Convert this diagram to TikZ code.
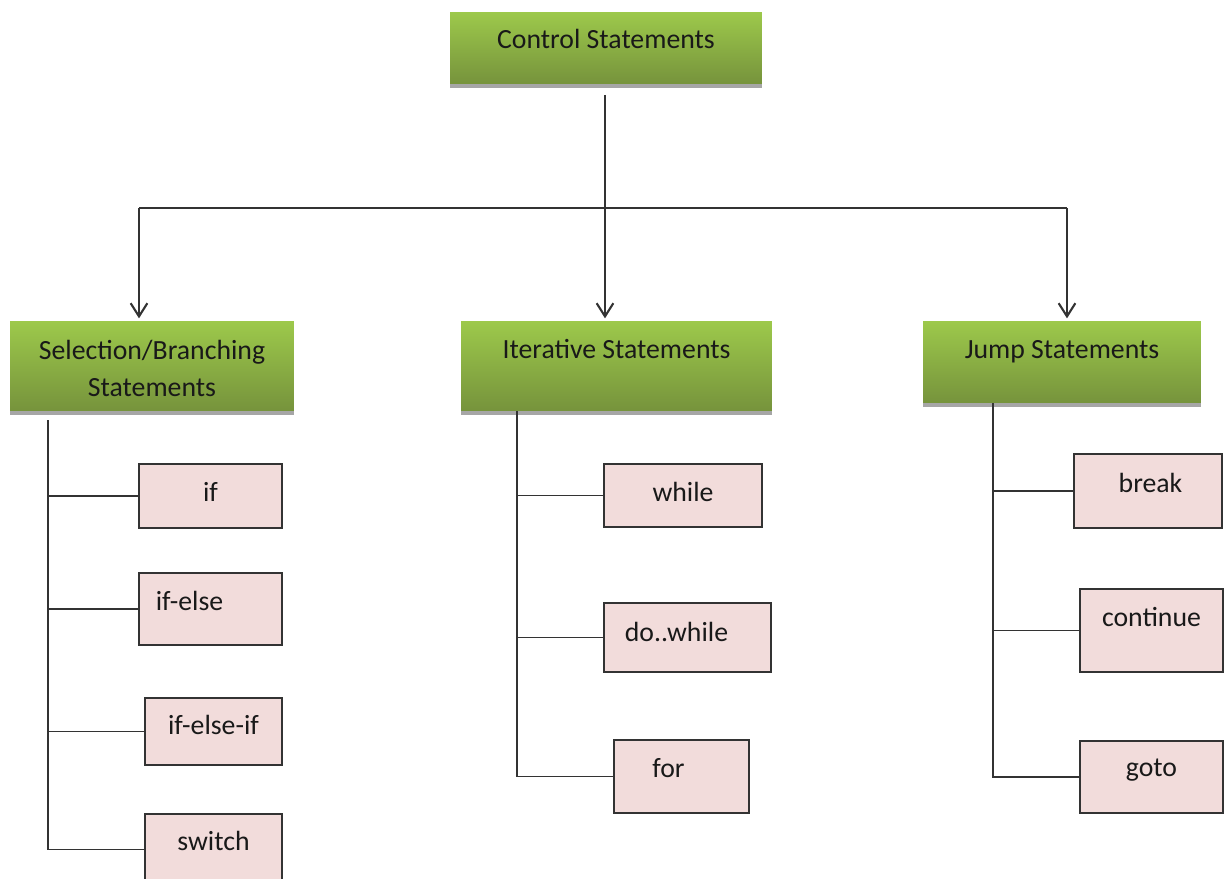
\documentclass[tikz,border=0pt]{standalone}
\usepackage{fontspec}
\setmainfont{Carlito}
\usepackage{tikz}
\usetikzlibrary{arrows.meta}
\usetikzlibrary{shadows}

\definecolor{headtop}{HTML}{9DC94B}
\definecolor{headbottom}{HTML}{76933C}
\definecolor{leafpink}{HTML}{F2DCDB}
\definecolor{wire}{HTML}{333333}

\begin{document}
\begin{tikzpicture}[x=0.02cm, y=-0.02cm, line width=1pt,
    every node/.style={font=\fontsize{15.8}{21.5}\selectfont, text=black!90, outer sep=0pt, inner xsep=0pt, inner ysep=0pt, anchor=north},
    head/.style={top color=headtop, bottom color=headbottom, draw=none,
        drop shadow={shadow xshift=0pt, shadow yshift=-2.2pt, fill=black!35, opacity=1}},
    leaf/.style={draw=wire, fill=leafpink},
    wireline/.style={draw=wire, line width=1pt},
    arrowline/.style={draw=wire, line width=1pt, -{Straight Barb[length=7.5pt, width=9.5pt, line width=1.2pt]}, shorten >=1.5pt}]
    \useasboundingbox (0, 0) rectangle (1224, 879);

    % draw green heading boxes
    \node[head, minimum width=6.24cm, text height=0.74cm, text depth=0.70cm] (ctrl) at (606, 12) {Control Statements};
    \node[head, minimum width=5.68cm, text height=1.52cm, text depth=0.28cm, align=center] (sel) at (152, 321) {Selection/Branching\\Statements};
    \node[head, minimum width=6.22cm, text height=0.76cm, text depth=1.04cm] (iter) at (616.5, 321) {Iterative Statements};
    \node[head, minimum width=5.56cm, text height=0.76cm, text depth=0.88cm] (jump) at (1062, 321) {Jump Statements};

    % draw pink leaf boxes
    \node[leaf, minimum width=2.86cm, text height=0.76cm, text depth=0.52cm] (if) at (210.5, 464) {if};
    \node[leaf, minimum width=2.86cm, text height=0.74cm, text depth=0.70cm] (ifelse) at (210.5, 573) {if-else\hspace*{0.84cm}};
    \node[leaf, minimum width=2.74cm, text height=0.72cm, text depth=0.62cm] (ifelseif) at (213.5, 698) {if-else-if};
    \node[leaf, minimum width=2.74cm, text height=0.72cm, text depth=0.70cm] (switch) at (213.5, 814) {switch};

    \node[leaf, minimum width=3.16cm, text height=0.76cm, text depth=0.50cm] (while) at (683, 464) {while};
    \node[leaf, minimum width=3.34cm, text height=0.78cm, text depth=0.60cm] (dowhile) at (687.5, 603) {do..while\hspace*{0.44cm}};
    \node[leaf, minimum width=2.70cm, text height=0.74cm, text depth=0.72cm] (for) at (681.5, 740) {for\hspace*{0.52cm}};

    \node[leaf, minimum width=2.96cm, text height=0.78cm, text depth=0.70cm] (break) at (1148, 454) {\hspace*{0.1cm}break};
    \node[leaf, minimum width=2.86cm, text height=0.74cm, text depth=0.92cm] (continue) at (1151.5, 589) {continue};
    \node[leaf, minimum width=2.86cm, text height=0.70cm, text depth=0.74cm] (goto) at (1151.5, 741) {goto};

    % draw trunk and arrows
    \coordinate (split) at (605, 208);
    \coordinate (splitL) at (139, 208);
    \coordinate (splitR) at (1067, 208);
    \draw[wireline, shorten <=0.22cm] (ctrl.south -| split) -- (split);
    \draw[wireline] (splitL) -- (splitR);
    \draw[arrowline] (splitL) -- (splitL |- sel.north);
    \draw[arrowline] (split) -- (split |- iter.north);
    \draw[arrowline] (splitR) -- (splitR |- jump.north);

    % draw left tree
    \coordinate (spineL) at (48, 420);
    \draw[wireline] (spineL) |- (switch.west);
    \draw[wireline] (spineL |- if.west) -- (if.west);
    \draw[wireline] (spineL |- ifelse.west) -- (ifelse.west);
    \draw[wireline] (spineL |- ifelseif.west) -- (ifelseif.west);

    % draw middle tree
    \coordinate (spineM) at (517, 411);
    \draw[wireline] (spineM) |- (for.west);
    \draw[wireline] (spineM |- while.west) -- (while.west);
    \draw[wireline] (spineM |- dowhile.west) -- (dowhile.west);

    % draw right tree
    \coordinate (spineR) at (993, 403);
    \draw[wireline] (spineR) |- (goto.west);
    \draw[wireline] (spineR |- break.west) -- (break.west);
    \draw[wireline] (spineR |- continue.west) -- (continue.west);
\end{tikzpicture}
\end{document}
